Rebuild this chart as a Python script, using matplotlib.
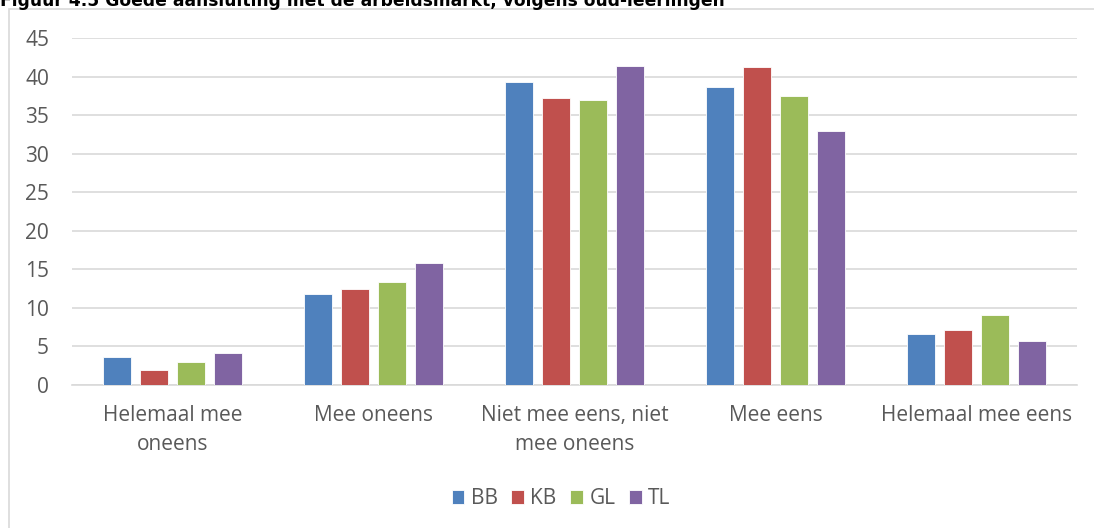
import matplotlib
matplotlib.use("Agg")
import matplotlib.pyplot as plt
import numpy as np
from matplotlib.patches import Rectangle

categories = ["Helemaal mee\noneens", "Mee oneens", "Niet mee eens, niet\nmee oneens", "Mee eens", "Helemaal mee eens"]
series_names = ["BB", "KB", "GL", "TL"]
BB = [3.6, 11.8, 39.3, 38.7, 6.6]
KB = [2.0, 12.5, 37.2, 41.2, 7.1]
GL = [3.0, 13.3, 37.0, 37.5, 9.1]
TL = [4.1, 15.8, 41.4, 32.9, 5.7]
yticks = [0, 5, 10, 15, 20, 25, 30, 35, 40, 45]
colors = ["#4F81BD", "#C0504D", "#9BBB59", "#8064A2"]
title = "Figuur 4.5 Goede aansluiting met de arbeidsmarkt, volgens oud-leerlingen"

W, H = 1094, 528
fig = plt.figure(figsize=(W/100, H/100), dpi=100)
font = "Open Sans"
tc = "#595959"
fs = 15

# chart border
fig.patches.append(Rectangle((9/W, -0.05), 1.1, 1 - 9/H + 0.05, transform=fig.transFigure,
                             fill=False, edgecolor="#D9D9D9", linewidth=1.2, zorder=0))
fig.text(0.0, 1 - 5.5/H, title, fontsize=12.3, fontweight="bold", family="DejaVu Sans",
         va="baseline", ha="left", color="black")

ax = fig.add_axes([72/W, 1 - 385/H, (1077-72)/W, (385-38)/H])
x = np.arange(len(categories))
width = 0.144
step = 0.184
for i, (name, vals) in enumerate(zip(series_names, [BB, KB, GL, TL])):
    ax.bar(x + (i - 1.5) * step, vals, width, color=colors[i], label=name,
           edgecolor="white", linewidth=0.6, zorder=3)

ax.set_ylim(0, 45)
ax.set_xlim(-0.5, len(categories) - 0.5)
ax.set_yticks(yticks)
ax.set_yticklabels([str(v) for v in yticks], fontsize=fs, color=tc, family=font)
ax.set_xticks(x)
ax.set_xticklabels(categories, fontsize=fs, color=tc, family=font, linespacing=1.5)
ax.tick_params(axis="both", length=0)
ax.tick_params(axis="y", pad=16.5)
ax.tick_params(axis="x", pad=14.5)
ax.yaxis.grid(True, color="#D9D9D9", linewidth=1.2, zorder=0)
ax.set_axisbelow(True)
for s in ["top", "right", "left"]:
    ax.spines[s].set_visible(False)
ax.spines["bottom"].set_color("#D9D9D9")
ax.spines["bottom"].set_linewidth(1.2)

leg = fig.legend(loc="center", bbox_to_anchor=(561/W, 1 - 499/H), ncol=4, frameon=False,
                 prop={"family": font, "size": fs}, handlelength=0.62, handleheight=0.62,
                 handletextpad=0.3, columnspacing=0.65, labelcolor=tc)

fig.savefig("out.png", dpi=100)
